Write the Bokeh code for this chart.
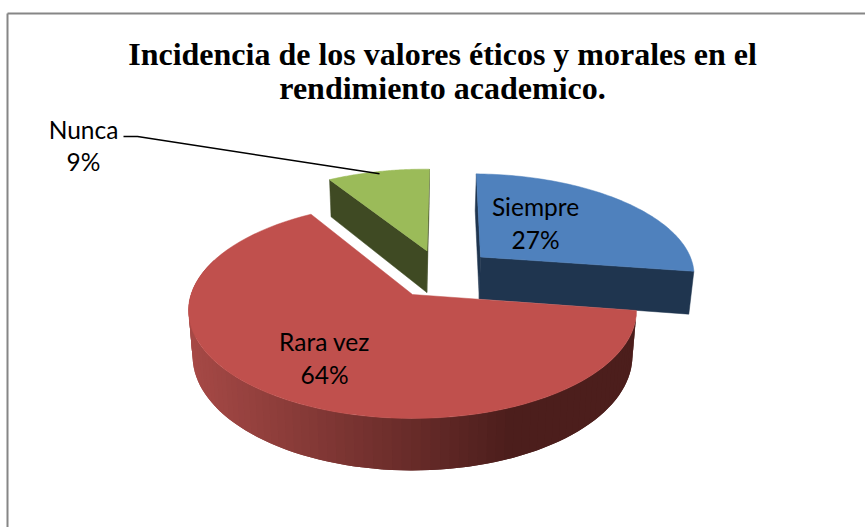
import numpy as np
from bokeh.plotting import figure
from bokeh.models import Range1d
from bokeh.core.properties import value
from bokeh.embed import file_html
from bokeh.resources import INLINE

categories = ["Siempre", "Rara vez", "Nunca"]
shares = [27, 64, 9]
top_colors = ["#4F81BD", "#C0504D", "#9BBB59"]
side_colors = ["#1F354F", "#4C1E1C", "#3F4A23"]
explode = [(0.324, -0.375), (0.0, 0.0), (0.07, -0.44)]
title_lines = ["Incidencia de los valores éticos y morales en el", "rendimiento academico."]

W, H = 865, 527
p = figure(width=W, height=H, output_backend="svg", toolbar_location=None,
           x_range=Range1d(0, W), y_range=Range1d(H, 0), min_border=0)
p.axis.visible = False
p.grid.visible = False
p.outline_line_color = None

CX, CY, A, B, K, D, S = 412.0, 294.0, 105.6, 221.5, 0.148, 44.3, 0.018
START = np.degrees(np.arcsin(K))

def proj(u, v, bottom=False):
    u, v = np.asarray(u, float), np.asarray(v, float)
    w = 1 - K * v
    if bottom:
        return CX + (1 - S) * B * u / w, CY + (A * v + D) / w
    return CX + B * u / w, CY + A * v / w

# clockwise angles from the shares; Rara vez starts the sweep at START
order = [1, 2, 0]
angle = START
spans = {}
for i in order:
    sweep = shares[i] * 360.0 / sum(shares)
    spans[i] = (angle, angle + sweep)
    angle += sweep

def rim(i, r=1.0, n=80):
    t = np.radians(np.linspace(*spans[i], n))
    return explode[i][0] + r * np.cos(t), explode[i][1] + r * np.sin(t)

def wedge(i, bottom=False):
    u, v = rim(i)
    u = np.r_[explode[i][0], u]
    v = np.r_[explode[i][1], v]
    return proj(u, v, bottom)

def face(i, end):
    a = np.radians(spans[i][end])
    eu, ev = explode[i]
    u = np.array([eu, eu + np.cos(a)])
    v = np.array([ev, ev + np.sin(a)])
    x1, y1 = proj(u, v)
    x2, y2 = proj(u, v, True)
    return np.r_[x1, x2[::-1]], np.r_[y1, y2[::-1]]

def fill(x, y, c, lw=0.5):
    p.patch(x, y, fill_color=c, line_color=c if lw else None, line_width=lw or 1)

# frame
p.line([7, 7], [13, H], line_color="#868686", line_width=2)
p.line([7, W], [13, 13], line_color="#868686", line_width=2)

# Nunca
for e in (0, 1):
    fill(*face(2, e), side_colors[2])
fill(*wedge(2), top_colors[2])
# Siempre
for e in (0, 1):
    fill(*face(0, e), side_colors[0])
fill(*wedge(0), top_colors[0])

# Rara vez: shaded outer wall, then the top
t = np.linspace(spans[1][0], 200, 90)
dark = np.array([0x4C, 0x1E, 0x1C])
light = np.array([0xA6, 0x49, 0x46])
for k in range(len(t) - 1):
    ra = np.radians(t[k:k + 3])
    u, v = np.cos(ra), np.sin(ra)
    x1, y1 = proj(u, v)
    x2, y2 = proj(u, v, True)
    f = np.clip((510 - x1[:2].mean()) / (510 - 190), 0, 1)
    c = dark + (light - dark) * f
    col = "#%02x%02x%02x" % tuple(int(round(q)) for q in c)
    fill(np.r_[x1, x2[::-1]], np.r_[y1, y2[::-1]], col, 0)
fill(*wedge(1), top_colors[1])

# leader for Nunca
lu, lv = rim(2, r=0.97, n=3)
lx, ly = proj(lu[1], lv[1])
p.line([123, 137, float(lx)], [136, 136, float(ly)], line_color="black", line_width=1.5)

def txt(x, y, s, font, size, style="normal"):
    p.text([x], [y], text=[s], text_font=value(font), text_font_size=size,
           text_font_style=style, text_align="center", text_baseline="alphabetic",
           text_color="black")

for s, y in zip(title_lines, [53, 87]):
    txt(442, y, s, "Liberation Serif", "32px", "bold")

label_pos = [(535, 206, 239), (324, 341, 374), (83, 129, 161)]
for c, sh, (x, y1, y2) in zip(categories, shares, label_pos):
    txt(x, y1, c, "Lato", "24.5px")
    txt(x, y2, f"{sh}%", "Lato", "24.5px")

open("out.html", "w").write(file_html(p, INLINE))
